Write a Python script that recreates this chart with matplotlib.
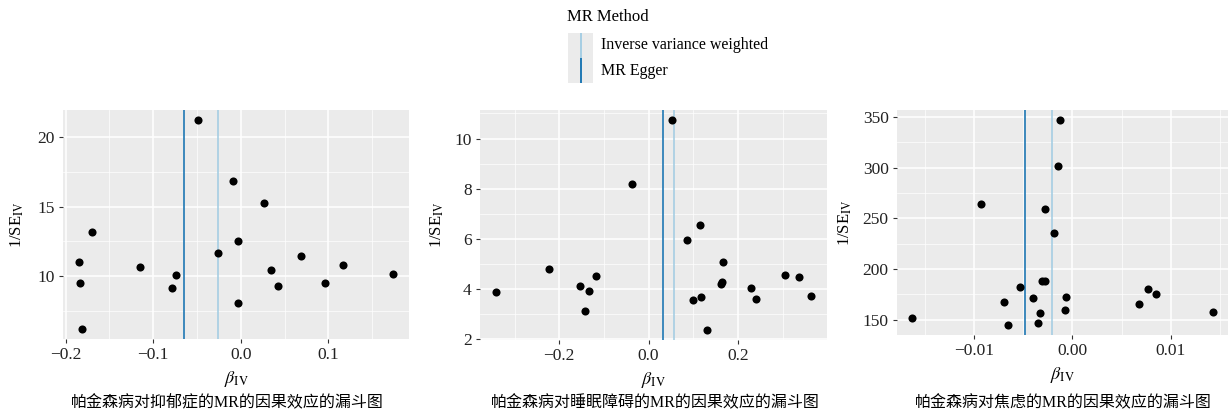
import matplotlib
matplotlib.use('agg')
import matplotlib.pyplot as plt
from matplotlib.ticker import FixedLocator, FixedFormatter, AutoMinorLocator

# Panel 1: Parkinson's -> depression
p1_beta = [-0.049, -0.009, 0.027, -0.170, -0.003, -0.026, -0.185, 0.069, -0.115, -0.074,
           0.035, 0.117, 0.174, -0.183, -0.079, 0.043, 0.096, -0.003, -0.181]
p1_inv_se = [21.23, 16.85, 15.29, 13.17, 12.50, 11.66, 10.99, 11.44, 10.67, 10.10,
             10.41, 10.82, 10.12, 9.52, 9.16, 9.28, 9.52, 8.05, 6.20]
p1_egger = -0.0645
p1_ivw = -0.0262
p1_xticks = [-0.2, -0.1, 0.0, 0.1]
p1_xlabels = ['\u22120.2', '\u22120.1', '0.0', '0.1']
p1_yticks = [10, 15, 20]

# Panel 2: Parkinson's -> sleep disorder
p2_beta = [0.053, -0.038, 0.087, 0.115, -0.223, 0.167, -0.117, -0.154, -0.134, -0.342, -0.142,
           0.164, 0.163, 0.099, 0.118, 0.131, 0.229, 0.240, 0.305, 0.336, 0.364]
p2_inv_se = [10.72, 8.20, 5.95, 6.54, 4.82, 5.10, 4.53, 4.14, 3.93, 3.90, 3.12,
             4.27, 4.20, 3.58, 3.70, 2.39, 4.06, 3.60, 4.57, 4.48, 3.72]
p2_egger = 0.0328
p2_ivw = 0.056
p2_xticks = [-0.2, 0.0, 0.2]
p2_xlabels = ['\u22120.2', '0.0', '0.2']
p2_yticks = [2, 4, 6, 8, 10]

# Panel 3: Parkinson's -> anxiety
p3_beta = [-0.00132, -0.00146, -0.00934, -0.00282, -0.00187, -0.00537, -0.00309, -0.00278,
           -0.0070, -0.00404, -0.00068, -0.00655, -0.00333, -0.00346, -0.00078, -0.01633,
           0.00679, 0.00767, 0.00846, 0.0143]
p3_inv_se = [346.7, 301.2, 264.0, 259.4, 235.3, 182.6, 188.2, 187.9, 167.1, 171.7, 172.7,
             145.1, 156.3, 146.7, 159.9, 151.6, 165.8, 180.3, 175.4, 157.2]
p3_egger = -0.00482
p3_ivw = -0.00204
p3_xticks = [-0.01, 0.0, 0.01]
p3_xlabels = ['\u22120.01', '0.00', '0.01']
p3_yticks = [150, 200, 250, 300, 350]

captions = ['帕金森病对抑郁症的MR的因果效应的漏斗图',
            '帕金森病对睡眠障碍的MR的因果效应的漏斗图',
            '帕金森病对焦虑的MR的因果效应的漏斗图']
methods = ['Inverse variance weighted', 'MR Egger']

IVW_COLOR = '#a6cee3'
EGGER_COLOR = '#1f78b4'
SERIF = ['Liberation Serif', 'Noto Sans CJK SC']

plt.rcParams['font.family'] = SERIF
plt.rcParams['mathtext.fontset'] = 'stix'

fig = plt.figure(figsize=(12.28, 4.13), dpi=100)
W, H = 1228.0, 413.0


def panel(left, right, top, bottom):
    return fig.add_axes([left / W, 1 - bottom / H, (right - left) / W, (bottom - top) / H])


def funnel(ax, beta, inv_se, egger, ivw, xticks, xlabels, yticks, ypad):
    ax.set_facecolor('#ebebeb')
    ax.scatter(beta, inv_se, s=34, color='black', zorder=3, linewidths=0)
    ax.axvline(ivw, color=IVW_COLOR, lw=1.2, zorder=2)
    ax.axvline(egger, color=EGGER_COLOR, lw=1.2, zorder=2)
    ax.margins(0.05)
    ax.xaxis.set_major_locator(FixedLocator(xticks))
    ax.xaxis.set_major_formatter(FixedFormatter(xlabels))
    ax.yaxis.set_major_locator(FixedLocator(yticks))
    ax.xaxis.set_minor_locator(AutoMinorLocator(2))
    ax.yaxis.set_minor_locator(AutoMinorLocator(2))
    ax.grid(which='major', color='white', lw=1.1, zorder=0)
    ax.grid(which='minor', color='white', lw=0.5, zorder=0)
    ax.set_axisbelow(True)
    for s in ax.spines.values():
        s.set_visible(False)
    ax.tick_params(which='major', length=3, width=0.8, color='#333333',
                   labelsize=12.5, labelcolor='#222222', pad=3)
    ax.tick_params(which='minor', length=0)
    ax.set_xlabel(r'$\beta_{\mathrm{IV}}$', fontsize=13, labelpad=4)
    ax.set_ylabel(r'1/SE$_{\mathrm{IV}}$', fontsize=12, labelpad=ypad)


ax1 = panel(63, 409, 110, 339)
funnel(ax1, p1_beta, p1_inv_se, p1_egger, p1_ivw, p1_xticks, p1_xlabels, p1_yticks, 8)
ax2 = panel(480, 827, 110, 340)
funnel(ax2, p2_beta, p2_inv_se, p2_egger, p2_ivw, p2_xticks, p2_xlabels, p2_yticks, 6)
ax3 = panel(897, 1228, 110, 335)
funnel(ax3, p3_beta, p3_inv_se, p3_egger, p3_ivw, p3_xticks, p3_xlabels, p3_yticks, 6)

for cx, cap in zip([227, 655, 1063], captions):
    fig.text(cx / W, 1 - 403 / H, cap, ha='center', va='center', fontsize=11.5, family=SERIF)

# legend: title, keys and labels
fig.text(567 / W, 1 - 17 / H, 'MR Method', ha='left', va='center', fontsize=12)
key = fig.add_axes([568 / W, 1 - 83 / H, 25 / W, 50 / H])
key.set_facecolor('#ebebeb')
key.set_xlim(0, 1)
key.set_ylim(0, 2)
key.set_xticks([])
key.set_yticks([])
for s in key.spines.values():
    s.set_visible(False)
for i, (lab, col) in enumerate(zip(methods, [IVW_COLOR, EGGER_COLOR])):
    key.plot([0.5, 0.5], [2 - i, 1 - i], color=col, lw=1.4, solid_capstyle='butt')
    fig.text(601 / W, 1 - (45 + 26 * i) / H, lab, ha='left', va='center', fontsize=11.5)

fig.savefig('out.png', dpi=100)
